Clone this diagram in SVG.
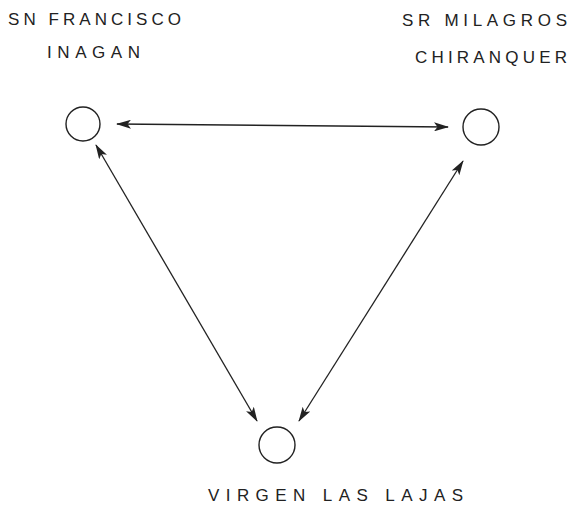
<svg xmlns="http://www.w3.org/2000/svg" width="572" height="506" viewBox="0 0 572 506">
<style>
.lbl{font-family:"Liberation Sans","DejaVu Sans",sans-serif;font-size:17px;fill:#222;}
.node circle{fill:none;stroke:#222;stroke-width:1.4;}
.conn line{stroke:#222;stroke-width:1.3;fill:none;}
</style>
<defs>
<marker id="ah" viewBox="0 0 15 9" refX="14" refY="4.5" markerWidth="15" markerHeight="9" markerUnits="userSpaceOnUse" orient="auto-start-reverse">
<path d="M0,0 L15,4.5 L0,9 L3.5,4.5 Z" fill="#222"/>
</marker>
</defs>
<g id="sn-francisco" class="node">
<circle cx="83" cy="124" r="17"/>
<text class="lbl" x="8" y="25" textLength="173" lengthAdjust="spacing">SN FRANCISCO</text>
<text class="lbl" x="47" y="58" textLength="93" lengthAdjust="spacing">INAGAN</text>
</g>
<g id="sr-milagros" class="node">
<circle cx="481" cy="127" r="18"/>
<text class="lbl" x="402" y="26" textLength="165" lengthAdjust="spacing">SR MILAGROS</text>
<text class="lbl" x="415" y="63" textLength="152" lengthAdjust="spacing">CHIRANQUER</text>
</g>
<g id="virgen-las-lajas" class="node">
<circle cx="277" cy="445" r="18"/>
<text class="lbl" x="208" y="501" textLength="255" lengthAdjust="spacing">VIRGEN LAS LAJAS</text>
</g>
<g id="connectors" class="conn">
<line x1="117" y1="124" x2="448" y2="127" marker-start="url(#ah)" marker-end="url(#ah)"/>
<line x1="96" y1="145" x2="257" y2="421" marker-start="url(#ah)" marker-end="url(#ah)"/>
<line x1="463" y1="161" x2="299" y2="421" marker-start="url(#ah)" marker-end="url(#ah)"/>
</g>
</svg>
